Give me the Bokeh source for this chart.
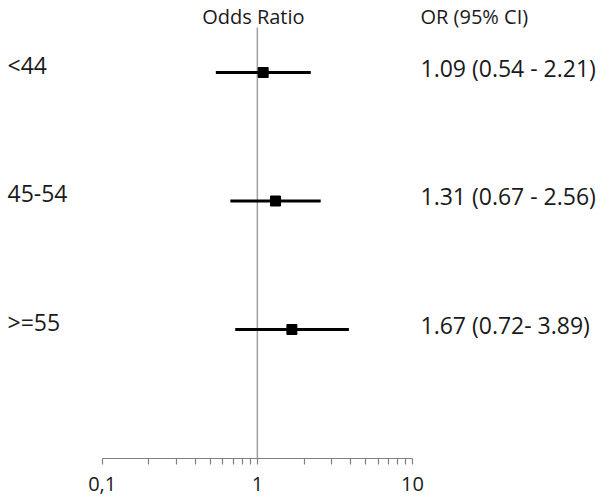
from bokeh.plotting import figure
from bokeh.models import Range1d, FixedTicker, ColumnDataSource
from bokeh.core.properties import value
from bokeh.embed import file_html
from bokeh.resources import INLINE

# ---- data ----
groups = ["<44", "45-54", ">=55"]
or_vals = [1.09, 1.31, 1.67]
ci_low = [0.54, 0.67, 0.72]
ci_high = [2.21, 2.56, 3.89]
ci_text = ["1.09 (0.54 - 2.21)", "1.31 (0.67 - 2.56)", "1.67 (0.72- 3.89)"]
header_plot = "Odds Ratio"
header_text = "OR (95% CI)"
major_ticks = [0.1, 1, 10]
tick_labels = ["0,1", "1", "10"]
minor_ticks = [0.2, 0.3, 0.4, 0.5, 0.6, 0.7, 0.8, 0.9, 2, 3, 4, 5, 6, 7, 8, 9]

# ---- layout (pixel positions within the figure) ----
W, H = 600, 498
decade_px = 155.15
one_px = 256.85          # frame x of OR = 1
row0_px, row_px, axis_px = 72, 128.5, 458

x_start = 10 ** ((0 - one_px) / decade_px)
x_end = 10 ** ((W - one_px) / decade_px)
x_text = 10 ** ((420 - one_px) / decade_px)
x_label = 10 ** ((7 - one_px) / decade_px)
y_top = -row0_px / row_px
y_bottom = (axis_px - row0_px) / row_px
y_header = (16 - row0_px) / row_px
y_ref_top = (27 - row0_px) / row_px

ypos = list(range(len(groups)))
src = ColumnDataSource(dict(group=groups, orv=or_vals, lo=ci_low, hi=ci_high,
                            txt=ci_text, y=ypos,
                            xl=[x_label] * len(groups), xt=[x_text] * len(groups)))

p = figure(width=W, height=H, x_axis_type="log",
           x_range=Range1d(x_start, x_end), y_range=Range1d(y_bottom, y_top),
           output_backend="svg", toolbar_location=None, y_axis_location=None,
           min_border_left=0, min_border_right=0, min_border_top=0,
           min_border_bottom=H - axis_px)
p.outline_line_color = None
p.xgrid.visible = False
p.ygrid.visible = False
p.background_fill_color = "white"

# reference line at OR = 1
p.segment(x0=[1], y0=[y_ref_top], x1=[1], y1=[y_bottom], line_color="#a0a0a0", line_width=1.5)

# CI lines + point estimates
p.segment(x0="lo", y0="y", x1="hi", y1="y", source=src, line_color="black", line_width=3)
p.scatter(x="orv", y="y", source=src, marker="square", size=10, color="black")

txt_color = "#1a1a1a"
font = value("Open Sans")
p.text(x="xl", y="y", text="group", source=src, text_font=font, text_font_size="23px",
       text_color=txt_color, text_align="left", text_baseline="middle", y_offset=-8)
p.text(x="xt", y="y", text="txt", source=src, text_font=font, text_font_size="23px",
       text_color=txt_color, text_align="left", text_baseline="middle", y_offset=-5)
p.text(x=[1], y=[y_header], text=[header_plot], text_font=font, text_font_size="20px",
       text_color=txt_color, text_align="center", text_baseline="middle", x_offset=-4)
p.text(x=[x_text], y=[y_header], text=[header_text], text_font=font, text_font_size="20px",
       text_color=txt_color, text_align="left", text_baseline="middle")

ax = p.xaxis[0]
ax.ticker = FixedTicker(ticks=major_ticks, minor_ticks=minor_ticks)
ax.bounds = (major_ticks[0], major_ticks[-1])
ax.major_label_overrides = {t: l for t, l in zip(major_ticks, tick_labels)}
ax.axis_line_color = "#808080"
ax.major_tick_line_color = "#808080"
ax.minor_tick_line_color = "#808080"
ax.axis_line_width = 1.2
ax.major_tick_line_width = 1.2
ax.minor_tick_line_width = 1.2
ax.major_tick_out = 6
ax.major_tick_in = 0
ax.minor_tick_out = 6
ax.minor_tick_in = 0
ax.major_label_standoff = 12
ax.major_label_text_font = "Open Sans"
ax.major_label_text_font_size = "20px"
ax.major_label_text_color = txt_color

open("out.html", "w").write(file_html(p, INLINE))
